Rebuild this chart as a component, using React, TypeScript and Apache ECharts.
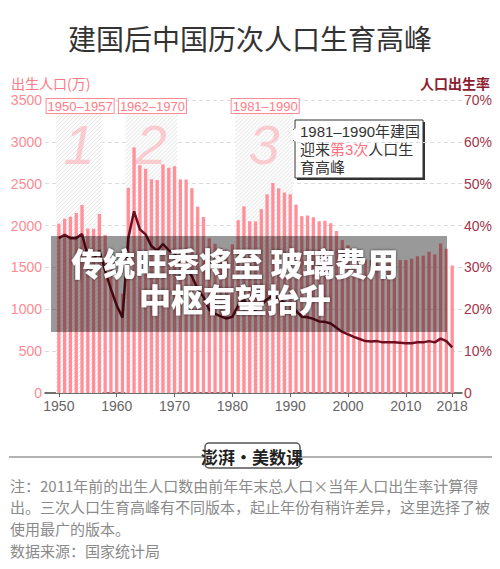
import React, { useEffect, useRef } from "react";
import * as echarts from "echarts";

const years = [
  1950, 1951, 1952, 1953, 1954, 1955, 1956, 1957, 1958, 1959,
  1960, 1961, 1962, 1963, 1964, 1965, 1966, 1967, 1968, 1969,
  1970, 1971, 1972, 1973, 1974, 1975, 1976, 1977, 1978, 1979,
  1980, 1981, 1982, 1983, 1984, 1985, 1986, 1987, 1988, 1989,
  1990, 1991, 1992, 1993, 1994, 1995, 1996, 1997, 1998, 1999,
  2000, 2001, 2002, 2003, 2004, 2005, 2006, 2007, 2008, 2009,
  2010, 2011, 2012, 2013, 2014, 2015, 2016, 2017, 2018,
];

// 出生人口（万）
const births = [
  2023, 2083, 2105, 2151, 2245, 1965, 1961, 2138, 1889, 1635,
  1389, 1188, 2451, 2934, 2721, 2679, 2554, 2543, 2731, 2690,
  2710, 2551, 2550, 2447, 2226, 2102, 1849, 1783, 1733, 1715,
  1776, 2064, 2230, 2052, 2050, 2196, 2374, 2508, 2445, 2396,
  2374, 2250, 2113, 2120, 2098, 2052, 2057, 2028, 1934, 1827,
  1765, 1696, 1641, 1594, 1588, 1612, 1581, 1591, 1604, 1587,
  1588, 1604, 1635, 1640, 1687, 1655, 1786, 1723, 1523,
];

// 人口出生率（‰，图中以%标注）
const birthRate = [
  37.0, 37.8, 37.0, 37.0, 38.0, 32.6, 31.9, 34.0, 29.2, 24.8,
  20.9, 18.0, 37.0, 43.4, 39.1, 37.9, 35.1, 34.0, 35.6, 34.1,
  33.4, 30.7, 29.8, 27.9, 24.8, 23.0, 19.9, 18.9, 18.3, 17.8,
  18.2, 20.9, 22.3, 20.2, 19.9, 21.0, 22.4, 23.3, 22.4, 21.6,
  21.1, 19.7, 18.2, 18.1, 17.7, 17.1, 17.0, 16.6, 15.6, 14.6,
  14.0, 13.4, 12.9, 12.4, 12.3, 12.4, 12.1, 12.1, 12.1, 12.0,
  11.9, 11.9, 12.1, 12.1, 12.4, 12.1, 13.0, 12.4, 10.9,
];

const peakStart = [1950, 1962, 1981];
const peakEnd = [1957, 1970, 1990];
const peakLabels = ["1950–1957", "1962–1970", "1981–1990"];
const peakNumbers = ["1", "2", "3"];

const xTickValues = [1950, 1960, 1970, 1980, 1990, 2000, 2010, 2018];

const FONT = "'Liberation Sans', 'Noto Sans CJK SC', sans-serif";
const CJK = "'Noto Sans CJK SC', 'Liberation Sans', sans-serif";
const PINK = "#ff8a94";
const MAROON = "#a3344a";

const footnotes = [
  "注：2011年前的出生人口数由前年年末总人口×当年人口出生率计算得",
  "出。三次人口生育高峰有不同版本，起止年份有稍许差异，这里选择了被",
  "使用最广的版本。",
  "数据来源：国家统计局",
];

export default function App() {
  const ref = useRef<HTMLDivElement>(null);

  useEffect(() => {
    if (!ref.current) return;
    const chart = echarts.init(ref.current, null, { renderer: "svg" });

    const renderPeak = (params: any, api: any) => {
      const i = params.dataIndex;
      const s = api.value(0);
      const e = api.value(1);
      const tl = api.coord([s - 0.5, 3500]);
      const br = api.coord([e + 0.5, 0]);
      const x0 = tl[0];
      const x1 = br[0];
      const yTop = tl[1];
      const y1 = br[1];
      const y0 = yTop + 14;
      const children: any[] = [];
      children.push({
        type: "rect",
        shape: { x: x0, y: y0, width: x1 - x0, height: y1 - y0 },
        style: { fill: "#fcfcfc" },
      });
      const step = 4;
      for (let c = x0 + y0 + 1; c < x1 + y1; c += step) {
        const xa = Math.max(x0, c - y1);
        const xb = Math.min(x1, c - y0);
        if (xb <= xa) continue;
        children.push({
          type: "line",
          shape: { x1: xa, y1: c - xa, x2: xb, y2: c - xb },
          style: { stroke: "#e6e6e6", lineWidth: 1 },
        });
      }
      const cx = (x0 + x1) / 2;
      children.push({
        type: "text",
        x: cx + 1,
        y: yTop - 1,
        style: {
          text: peakLabels[i],
          fontSize: 13,
          fontFamily: FONT,
          fill: "#ff7c88",
          align: "center",
          verticalAlign: "top",
          backgroundColor: "#fff",
          borderColor: PINK,
          borderWidth: 1,
          padding: [1, 1, 0, 1],
        },
      });
      children.push({
        type: "text",
        x: cx,
        y: yTop + 44,
        style: {
          text: peakNumbers[i],
          fontSize: 56,
          fontStyle: "italic",
          fontFamily: FONT,
          fill: "rgba(255,140,150,0.4)",
          align: "center",
          verticalAlign: "middle",
        },
      });
      return { type: "group", children };
    };

    chart.setOption({
      animation: false,
      backgroundColor: "#fff",
      title: {
        text: "建国后中国历次人口生育高峰",
        left: "center",
        top: 24,
        padding: 0,
        textStyle: {
          fontSize: 28,
          fontWeight: "normal",
          color: "#333",
          fontFamily: CJK,
        },
      },
      grid: { left: 45, right: 38, top: 100, bottom: 176 },
      xAxis: {
        type: "value",
        min: 1947.6,
        max: 2019.7,
        axisLine: { lineStyle: { color: "#444", width: 1.5 } },
        axisTick: {
          show: true,
          customValues: xTickValues,
          length: 4,
          lineStyle: { color: "#666" },
        },
        axisLabel: {
          customValues: xTickValues,
          color: "#666",
          fontSize: 14,
          fontFamily: FONT,
          margin: 6,
          formatter: (v: number) => String(v),
        },
        splitLine: { show: false },
      },
      yAxis: [
        {
          type: "value",
          min: 0,
          max: 3500,
          interval: 500,
          axisLine: { show: false },
          axisTick: { show: false },
          axisLabel: {
            color: PINK,
            fontSize: 14,
            fontFamily: FONT,
            margin: 3,
            formatter: (v: number) => String(v),
          },
          splitLine: { lineStyle: { color: "#dcdcdc", type: [4, 3] } },
        },
        {
          type: "value",
          min: 0,
          max: 70,
          interval: 10,
          position: "right",
          axisLine: { show: false },
          axisTick: { show: false },
          axisLabel: {
            color: MAROON,
            fontSize: 14,
            fontFamily: FONT,
            margin: 2,
            formatter: (v: number) => (v === 0 ? "0" : v + "%"),
          },
          splitLine: { show: false },
        },
      ],
      series: [
        {
          type: "custom",
          name: "高峰",
          xAxisIndex: 0,
          yAxisIndex: 0,
          z: 1,
          clip: false,
          silent: true,
          encode: { x: [0, 1] },
          data: peakStart.map((s, i) => [s, peakEnd[i]]),
          renderItem: renderPeak,
        },
        {
          type: "bar",
          name: "出生人口",
          z: 2,
          barWidth: 3.3,
          itemStyle: { color: "#ff8f98" },
          data: births.map((v, i) => [years[i], v]),
        },
        {
          type: "line",
          name: "人口出生率",
          yAxisIndex: 1,
          z: 3,
          symbol: "none",
          lineStyle: { color: "#6e0f1f", width: 2.5 },
          data: birthRate.map((v, i) => [years[i], v]),
        },
      ],
      graphic: [
        {
          type: "text",
          left: 11,
          top: 76,
          style: {
            text: "出生人口(万)",
            fontSize: 14,
            fill: "#ff7a86",
            fontFamily: CJK,
          },
        },
        {
          type: "text",
          right: 10,
          top: 76,
          style: {
            text: "人口出生率",
            fontSize: 14,
            fontWeight: "bold",
            fill: "#8c1c30",
            fontFamily: CJK,
          },
        },
        // callout
        {
          type: "group",
          z: 50,
          children: [
            {
              type: "rect",
              shape: { x: 297, y: 122, width: 128, height: 58 },
              style: { fill: "#333" },
            },
            {
              type: "polygon",
              shape: { points: [[296, 128], [283, 135], [296, 142]] },
              style: { fill: "#fff", stroke: "#333", lineWidth: 1 },
            },
            {
              type: "rect",
              shape: { x: 295, y: 120, width: 128, height: 58 },
              style: { fill: "#fff", stroke: "#333", lineWidth: 1 },
            },
            {
              type: "line",
              shape: { x1: 295, y1: 128.5, x2: 295, y2: 141.5 },
              style: { stroke: "#fff", lineWidth: 2 },
            },
            {
              type: "text",
              x: 300,
              y: 122,
              style: {
                text: "1981–1990年建国\n迎来{p|第3次}人口生\n育高峰",
                fontSize: 15,
                lineHeight: 18,
                fill: "#333",
                fontFamily: FONT,
                rich: {
                  p: { fontSize: 15, fill: "#ff6f7d", fontFamily: FONT, lineHeight: 18 },
                },
              },
            },
          ],
        },
        // overlay band
        {
          type: "rect",
          z: 100,
          shape: { x: 51, y: 236, width: 396, height: 96 },
          style: { fill: "rgba(0,0,0,0.4)" },
        },
        {
          type: "text",
          z: 101,
          x: 235,
          y: 280,
          style: {
            text: "传统旺季将至 玻璃费用\n中枢有望抬升",
            fontSize: 32,
            lineHeight: 36,
            fontWeight: 900,
            fill: "#fff",
            align: "center",
            verticalAlign: "middle",
            fontFamily: CJK,
            textShadowColor: "rgba(0,0,0,0.6)",
            textShadowBlur: 3,
          },
        },
        // footer line & logo
        {
          type: "line",
          shape: { x1: 9, y1: 457, x2: 204, y2: 457 },
          style: { stroke: "#666", lineWidth: 1 },
        },
        {
          type: "line",
          shape: { x1: 301, y1: 457, x2: 495, y2: 457 },
          style: { stroke: "#666", lineWidth: 1 },
        },
        {
          type: "rect",
          shape: { x: 205, y: 443, width: 95, height: 25, r: 4 },
          style: { fill: "#fff", stroke: "#555", lineWidth: 1.5 },
        },
        {
          type: "text",
          x: 252,
          y: 456,
          style: {
            text: "澎湃·美数课",
            fontSize: 17,
            fontWeight: "bold",
            fill: "#222",
            align: "center",
            verticalAlign: "middle",
            fontFamily: CJK,
          },
        },
        ...footnotes.map((t, i) => ({
          type: "text",
          x: 10,
          y: 485 + i * 21.7,
          style: {
            text: t,
            fontSize: 15,
            fill: "#8a8a8a",
            verticalAlign: "middle",
            fontFamily: CJK,
          },
        })),
      ],
    });

    return () => chart.dispose();
  }, []);

  return <div ref={ref} style={{ width: 500, height: 569, margin: -8 }} />;
}
